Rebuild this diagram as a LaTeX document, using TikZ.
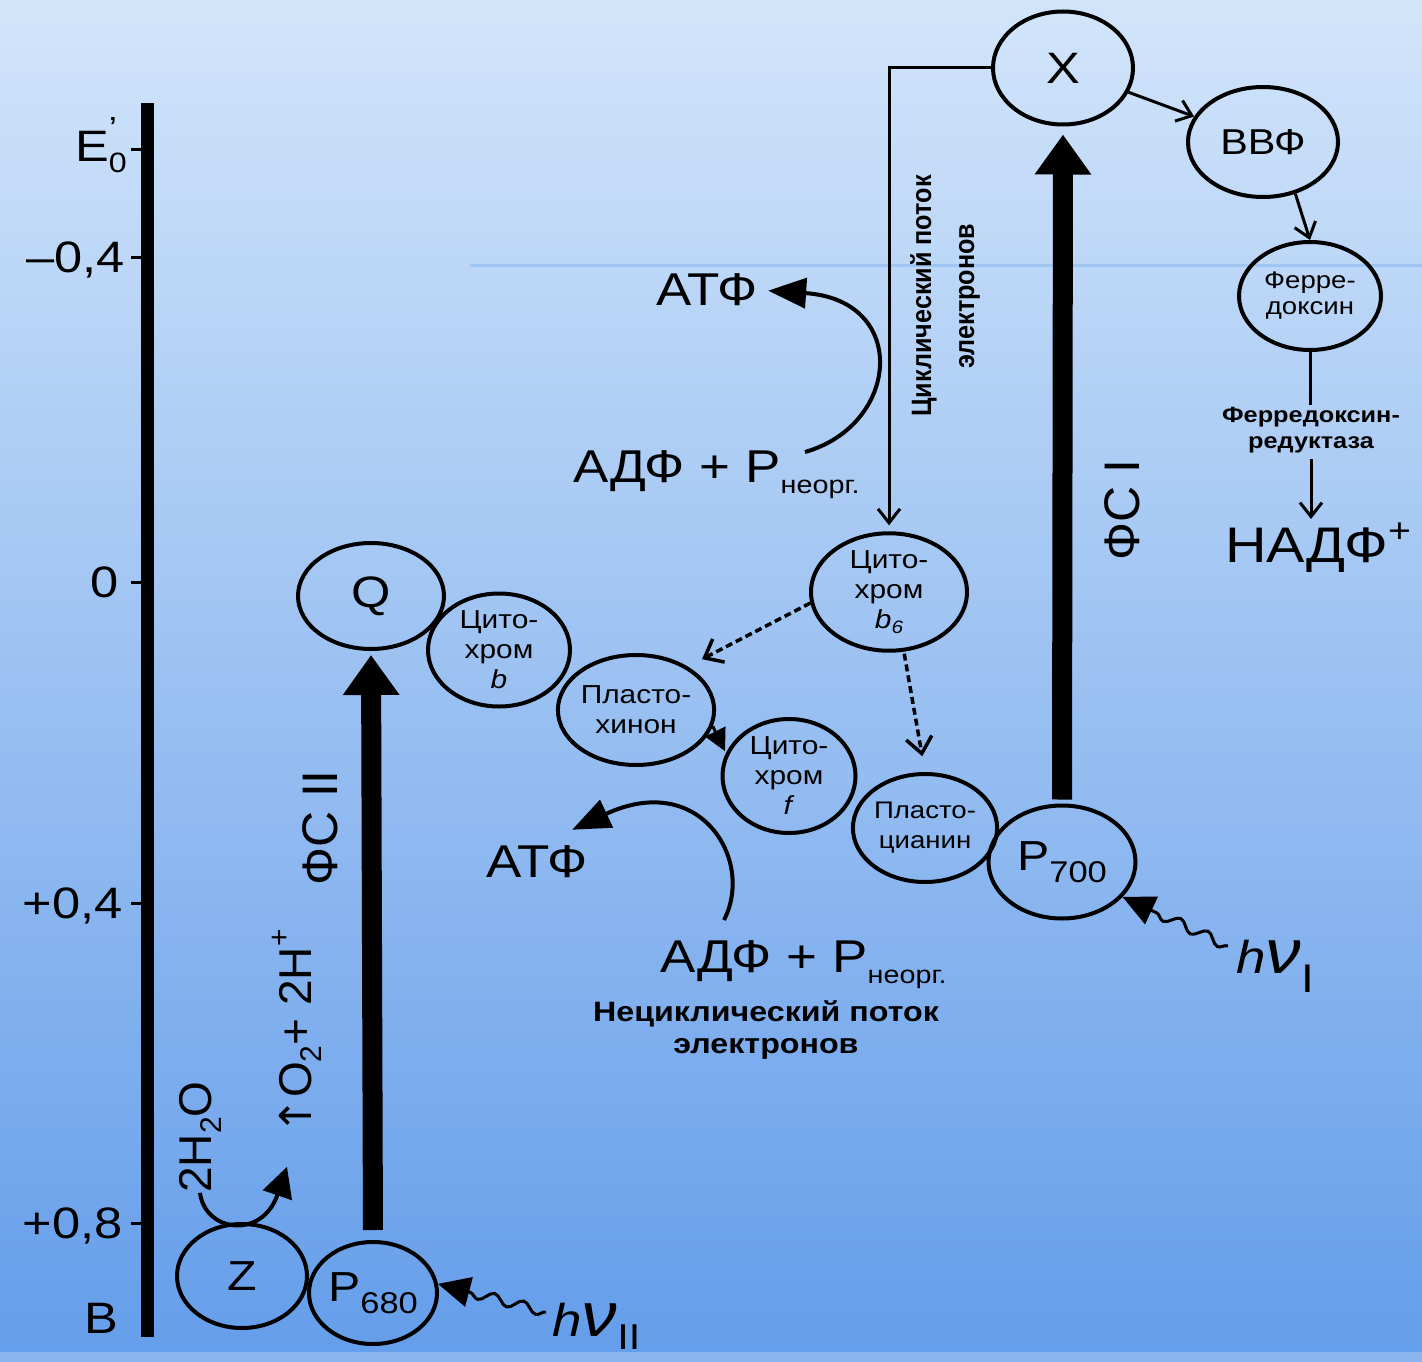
\documentclass[tikz,border=0pt]{standalone}
\usepackage{fontspec}
\setmainfont{Liberation Sans}[FakeStretch=1.15]
\newfontfamily\plainsans{Liberation Sans}
\newfontfamily\narrowsans{Liberation Sans}[FakeStretch=0.9]
\newfontfamily\dejavu{DejaVu Sans}
\usetikzlibrary{shapes.geometric,arrows.meta,decorations.pathmorphing,calc}
\newcommand{\fsz}[2]{\fontsize{#1}{#2}\selectfont}
\definecolor{bgtop}{RGB}{210,229,250}
\definecolor{bgmid}{RGB}{182,211,246}
\definecolor{bgbot}{RGB}{100,157,234}
\definecolor{bgline}{RGB}{160,198,244}
\definecolor{bgband}{RGB}{140,182,238}
\begin{document}
\begin{tikzpicture}[x=1pt,y=-1pt,
  ell/.style={draw, ellipse, line width=4pt, inner sep=0pt, align=center, font=\fsz{26}{30}},
  bigarr/.style={line width=20pt, -{Triangle[length=40pt,width=54pt]}},
  barb/.style={line width=3pt, -{Straight Barb[length=14pt,width=22pt]}},
  dasharr/.style={line width=3.5pt, dash pattern=on 7pt off 4pt, -{Straight Barb[length=16pt,width=26pt]}},
  curvarr/.style={line width=4pt, -{Triangle[length=38pt,width=30pt]}},
  curvarrs/.style={line width=4pt, -{Triangle[length=30pt,width=30pt]}},
  wavy/.style={line width=3pt, decorate, decoration={snake, amplitude=5pt, segment length=30pt, post length=32pt}, -{Triangle[length=32pt,width=30pt]}},
  lbl/.style={inner sep=0pt},
  axtick/.style={line width=3pt}
]
\useasboundingbox (0,0) rectangle (1422,1362);
\shade[top color=bgtop, middle color=bgmid, bottom color=bgbot] (0,0) rectangle (1422,1362);
\fill[bgband] (0,1352) rectangle (1422,1362);
\draw[bgline, line width=3pt] (470,265) -- (1422,265);

% axis
\draw[line width=13pt] (147,103) -- (147,1337);
\foreach \yy in {150,257,582,903,1223} \draw[axtick] (131,\yy) -- (147,\yy);
\node[lbl, anchor=base west, font=\fsz{44}{44}] (E0) at (75,162) {E\rlap{\raisebox{22pt}{\fsz{32}{32}’}}\raisebox{-10pt}{\fsz{28}{28}0}};
\node[lbl, anchor=base east, font=\fsz{44}{44}] (lm04) at (125,272) {–0,4};
\node[lbl, anchor=base east, font=\fsz{44}{44}] (l0) at (119,597) {0};
\node[lbl, anchor=base east, font=\fsz{44}{44}] (lp04) at (123,918) {+0,4};
\node[lbl, anchor=base east, font=\fsz{44}{44}] (lp08) at (123,1238) {+0,8};
\node[lbl, anchor=base east, font=\fsz{44}{44}] (lB) at (118,1333) {B};

% nodes
\node[ell, minimum width=140pt, minimum height=113pt, font=\fsz{44}{44}] (X) at (1063,68) {X};
\node[ell, minimum width=150pt, minimum height=110pt, font=\fsz{36}{36}] (BBF) at (1263,142) {ВВФ};
\node[ell, minimum width=142pt, minimum height=108pt, font=\fsz{24}{26}] (Fd) at (1310,296) {Ферре-\\доксин};
\node[ell, minimum width=156pt, minimum height=112pt] (b6) at (889,592) {Цито-\\хром\\\textit{b}\raisebox{-5pt}{\fsz{18}{18}\textit{6}}};
\node[ell, minimum width=146pt, minimum height=106pt, font=\fsz{44}{44}] (Q) at (371,596) {Q};
\node[ell, minimum width=142pt, minimum height=113pt] (cytb) at (499,650) {Цито-\\хром\\\textit{b}};
\node[ell, minimum width=138pt, minimum height=110pt] (PQ) at (636,710) {Пласто-\\хинон};
\node[ell, minimum width=133pt, minimum height=114pt] (cytf) at (789,776) {Цито-\\хром\\\textit{f}};
\node[ell, minimum width=126pt, minimum height=108pt, font=\fsz{24}{30}] (PC) at (925,828) {Пласто-\\цианин};
\node[ell, minimum width=147pt, minimum height=113pt, font=\fsz{42}{42}] (P700) at (1062,862) {P\raisebox{-12pt}{\fsz{30}{30}700}};
\node[ell, minimum width=130pt, minimum height=104pt, font=\fsz{42}{42}] (Z) at (242,1276) {Z};
\node[ell, minimum width=128pt, minimum height=102pt, font=\fsz{42}{42}] (P680) at (373,1293) {P\raisebox{-12pt}{\fsz{30}{30}680}};

% texts
\node[lbl, font=\fsz{46}{46}] (atp1) at (707,290) {АТФ};
\node[lbl, anchor=base west, font=\fsz{46}{46}] (adp1) at (573,482) {АДФ + P\raisebox{-11pt}{\fsz{25}{25}неорг.}};
\node[lbl, font=\fsz{46}{46}] (atp2) at (537,862) {АТФ};
\node[lbl, anchor=base west, font=\fsz{46}{46}] (adp2) at (660,972) {АДФ + P\raisebox{-11pt}{\fsz{25}{25}неорг.}};
\node[lbl, font=\bfseries\fsz{28}{32}, align=center] (noncyc) at (766,1030) {Нециклический поток\\электронов};
\node[lbl, rotate=90, font=\narrowsans\bfseries\fsz{28}{43}, align=center] (cyc) at (945,296) {Циклический поток\\электронов};
\node[lbl, rotate=90, font=\plainsans\fsz{50}{50}] (fs1) at (1122,510) {ФС I};
\node[lbl, rotate=90, font=\plainsans\fsz{50}{50}] (fs2) at (320,828) {ФС II};
\node[lbl, rotate=90, font=\plainsans\fsz{46}{46}] (h2o) at (200,1137) {2H\raisebox{-10pt}{\fsz{30}{30}2}O};
\node[lbl, rotate=90, font=\plainsans\fsz{46}{46}] (o2) at (297,1032) {{\dejavu\fsz{44}{44}↑}O\raisebox{-10pt}{\fsz{30}{30}2}+ 2H\raisebox{22pt}{\fsz{30}{30}+}};
\node[lbl, font=\bfseries\fsz{22}{26}, align=center] (red) at (1311,430) {Ферредоксин-\\редуктаза};
\node[lbl, font=\fsz{50}{50}] (NADP) at (1318,548) {НАДФ\raisebox{20pt}{\fsz{34}{34}+}};
\node[lbl, anchor=base west, font=\fsz{46}{46}] (hv1) at (1236,973) {\textit{h}{\fsz{62}{62}\textit{ν}}\raisebox{-19pt}{\fsz{40}{40}I}};
\node[lbl, anchor=base west, font=\fsz{46}{46}] (hv2) at (552,1336) {\textit{h}{\fsz{62}{62}\textit{ν}}\raisebox{-13pt}{\fsz{36}{36}II}};

% connectors
\draw[barb, shorten >=6pt] (X.west) -| (b6.north);
\draw[barb] (X) -- (BBF);
\draw[barb] (BBF.-58) -- (Fd.north);
\draw[line width=3pt, shorten >=2pt] (Fd.south) -- (Fd.south |- red.north);
\draw[barb, shorten <=6pt, shorten >=4pt] (red.south) -- (red.south |- NADP.north);
\draw[bigarr, shorten <=4pt, shorten >=8pt] (P700.north) -- (X.south);
\draw[bigarr, shorten <=10pt, shorten >=4pt] (P680.north) -- (Q.south);
\draw[-{Triangle[length=22pt,width=22pt]}, line width=3pt, shorten >=2pt] (PQ.-12) -- (cytf.160);
\draw[dasharr, shorten >=16pt] (b6.188) -- (PQ.40);
\draw[dasharr, shorten <=2pt, shorten >=16pt] (b6.-76) -- (PC.north);

\coordinate (c1s) at (805,452);
\draw[curvarr, shorten >=10pt] (c1s) .. controls (900,425) and (910,300) .. (atp1.east);
\coordinate (c2s) at (724,920);
\draw[curvarr] (c2s) .. controls (755,860) and (700,770) .. ($(atp2.north east)+(-16,-16)$);
\draw[curvarrs] (h2o.west) .. controls (205,1232) and (262,1240) .. ($(o2.west)+(-10,32)$);

\coordinate (w1) at (1228,946);
\draw[wavy] (w1) -- (P700.-30);
\coordinate (w2) at (546,1312);
\draw[wavy] (w2) -- (P680.8);
\end{tikzpicture}
\end{document}
